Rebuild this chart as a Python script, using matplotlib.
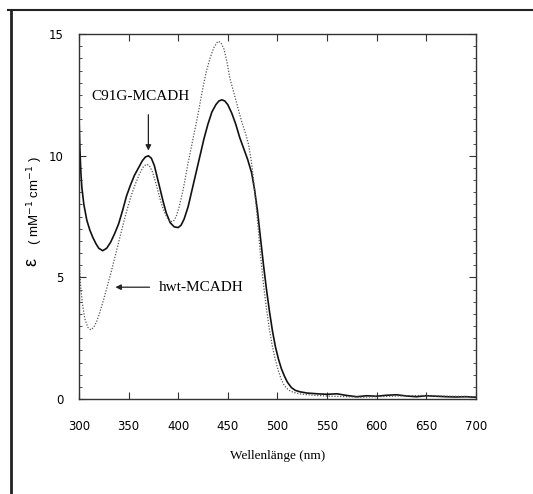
import matplotlib.pyplot as plt
from matplotlib.lines import Line2D
from matplotlib.ticker import MultipleLocator

c91g_nm = [300, 300.5, 301, 302, 303, 305, 308, 311, 314, 317, 320, 324, 328, 332, 336, 340,
           344, 348, 352, 356, 360, 364, 367, 370, 373, 376, 379, 382, 385, 388, 392, 396,
           400, 403, 406, 410, 414, 418, 422, 426, 430, 434, 438, 441, 444, 447, 450, 454,
           458, 462, 466, 470, 474, 477, 480, 483, 486, 489, 492, 495, 498, 501, 504, 507,
           510, 514, 518, 523, 530, 540, 550, 560, 570, 580, 590, 600, 610, 620, 630, 640,
           650, 660, 670, 680, 690, 700]
c91g_eps = [11.8, 11.0, 10.3, 9.3, 8.7, 8.0, 7.35, 6.95, 6.65, 6.4, 6.2, 6.1, 6.2, 6.45, 6.8, 7.2,
            7.75, 8.35, 8.8, 9.2, 9.5, 9.8, 9.95, 10.0, 9.9, 9.6, 9.1, 8.6, 8.1, 7.65, 7.25, 7.08,
            7.05, 7.15, 7.4, 7.9, 8.6, 9.3, 10.0, 10.7, 11.3, 11.8, 12.1, 12.25, 12.3, 12.25, 12.1, 11.75,
            11.3, 10.75, 10.3, 9.85, 9.3, 8.6, 7.7, 6.6, 5.5, 4.5, 3.6, 2.8, 2.15, 1.65, 1.25, 0.95,
            0.7, 0.48, 0.36, 0.3, 0.25, 0.22, 0.2, 0.22, 0.15, 0.1, 0.14, 0.12, 0.16, 0.18, 0.13, 0.1,
            0.14, 0.12, 0.1, 0.09, 0.1, 0.08]

hwt_nm = [300, 301, 302, 304, 306, 309, 312, 315, 318, 321, 325, 329, 333, 337, 341, 345,
          349, 353, 357, 361, 365, 368, 371, 374, 377, 380, 383, 386, 389, 392, 395, 398,
          401, 405, 410, 415, 420, 424, 428, 432, 436, 440, 443, 446, 449, 452, 456, 460,
          464, 468, 471, 474, 477, 480, 483, 486, 489, 492, 495, 498, 501, 504, 507, 511,
          516, 522, 530, 540, 555, 570, 585, 600, 615, 630, 645, 660, 675, 690, 700]
hwt_eps = [6.0, 5.2, 4.5, 3.8, 3.3, 2.95, 2.85, 2.95, 3.2, 3.55, 4.1, 4.7, 5.3, 5.95, 6.6, 7.25,
           7.85, 8.4, 8.85, 9.25, 9.55, 9.65, 9.6, 9.35, 8.95, 8.5, 8.05, 7.7, 7.45, 7.3, 7.3, 7.5,
           7.9, 8.6, 9.7, 10.7, 11.7, 12.6, 13.4, 14.0, 14.45, 14.7, 14.65, 14.4, 13.9, 13.2, 12.6, 12.0,
           11.4, 10.9, 10.45, 9.7, 8.6, 7.3, 5.9, 4.7, 3.7, 2.85, 2.15, 1.6, 1.15, 0.8, 0.55, 0.38,
           0.28, 0.22, 0.18, 0.15, 0.12, 0.1, 0.08, 0.1, 0.12, 0.14, 0.15, 0.13, 0.12, 0.11, 0.1]

x_ticks = [300, 350, 400, 450, 500, 550, 600, 650, 700]
y_ticks = [0, 5, 10, 15]

fig = plt.figure(figsize=(5.33, 4.94), dpi=100)
ax = fig.add_axes([0.148, 0.192, 0.745, 0.739])

ax.plot(c91g_nm, c91g_eps, color='#111111', linewidth=1.2)
ax.plot(hwt_nm, hwt_eps, color='#555555', linewidth=0.9, linestyle=(0, (1, 1.3)))

ax.set_xlim(300, 700)
ax.set_ylim(0, 15)
ax.set_xticks(x_ticks)
ax.set_yticks(y_ticks)
ax.yaxis.set_minor_locator(MultipleLocator(0.5))
ax.tick_params(axis='both', which='both', direction='in', top=True, right=True,
               color='#333333', labelsize=8.5)
ax.tick_params(axis='x', which='major', length=5, pad=15)
ax.tick_params(axis='y', which='major', length=5, pad=11)
ax.tick_params(axis='y', which='minor', length=2.5)
for lab in ax.get_xticklabels() + ax.get_yticklabels():
    lab.set_family('DejaVu Sans')
for sp in ax.spines.values():
    sp.set_color('#333333')
    sp.set_linewidth(1.0)

ax.set_xlabel('Wellenlänge (nm)', family='Liberation Serif', fontsize=9.5, labelpad=12)
ax.set_ylabel('( mM$^{-1}$ cm$^{-1}$ )', family='Liberation Sans', fontsize=9.5)
ax.yaxis.set_label_coords(-0.085, 0.545)
fig.text(0.06, 0.47, 'ε', rotation=90, fontsize=13, family='Liberation Sans',
         ha='center', va='center')

# Beschriftungen mit Pfeilen
ax.annotate('', xy=(370, 10.1), xytext=(370, 11.8),
            arrowprops=dict(arrowstyle='-|>', color='#222222', lw=0.9, mutation_scale=8))
ax.text(313, 12.45, 'C91G-MCADH', family='Liberation Serif', fontsize=11,
        va='center', ha='left')
ax.annotate('', xy=(334, 4.6), xytext=(374, 4.6),
            arrowprops=dict(arrowstyle='-|>', color='#222222', lw=0.9, mutation_scale=8))
ax.text(380, 4.6, 'hwt-MCADH', family='Liberation Serif', fontsize=11,
        va='center', ha='left')

# Rahmen des eingescannten Bildes
fig.add_artist(Line2D([0.015, 1.0], [0.98, 0.98], transform=fig.transFigure,
                      color='#222222', linewidth=1.5))
fig.add_artist(Line2D([0.02, 0.02], [0.0, 0.98], transform=fig.transFigure,
                      color='#222222', linewidth=2))

fig.savefig('out.png', dpi=100)
